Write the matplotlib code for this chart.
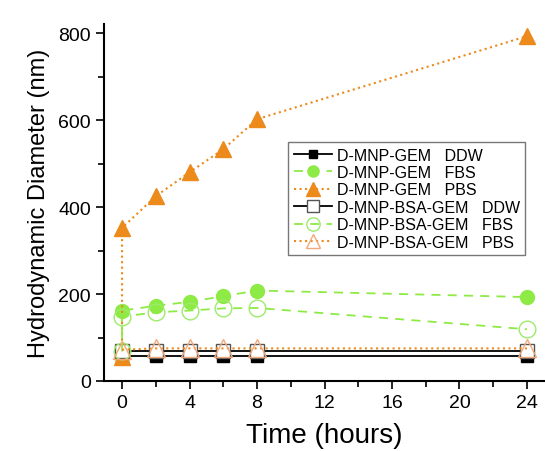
import matplotlib
matplotlib.use("Agg")
import matplotlib.pyplot as plt
from matplotlib.ticker import MultipleLocator

plt.rcParams['font.family'] = ['Liberation Sans', 'DejaVu Sans']

t_main = [0, 2, 4, 6, 8, 24]
t_init = [0, 0, 2, 4, 6, 8, 24]

gem_ddw = [57, 57, 57, 57, 57, 57]
gem_fbs = [55, 162, 173, 182, 195, 208, 193]
gem_pbs = [55, 352, 425, 480, 533, 602, 793]
bsa_ddw = [70, 70, 70, 70, 70, 70]
bsa_fbs = [68, 148, 158, 162, 167, 168, 119]
bsa_pbs = [72, 75, 75, 75, 75, 75]

labels = ["D-MNP-GEM   DDW", "D-MNP-GEM   FBS", "D-MNP-GEM   PBS",
          "D-MNP-BSA-GEM   DDW", "D-MNP-BSA-GEM   FBS", "D-MNP-BSA-GEM   PBS"]

orange = '#EC8A1C'
orange_l = '#F2A878'
green = '#8EEA45'
green_l = '#9CEB6A'

fig = plt.figure(figsize=(5.45, 4.52), dpi=100)
ax = fig.add_axes([104/545, 1-382/452, (545-104)/545, (382-25)/452])

ax.plot(t_main, gem_ddw, '-', color='black', lw=1.3, marker='s', ms=8,
        mfc='black', mec='black', label=labels[0])
ax.plot(t_init, gem_fbs, '--', color=green, lw=1.3, marker='o', ms=10,
        mfc=green, mec=green, label=labels[1], dashes=[5, 4])
ax.plot(t_init, gem_pbs, ':', color=orange, lw=1.5, marker='^', ms=12,
        mfc=orange, mec=orange, label=labels[2])
ax.plot(t_main, bsa_ddw, '-', color='black', lw=1.3, marker='s', ms=10,
        mfc='white', mec='#555555', label=labels[3])
ax.plot(t_init, bsa_fbs, '--', color=green, lw=1.3, marker='o', ms=12,
        mfc='none', mec=green_l, label=labels[4], dashes=[5, 4])
ax.plot(t_main, bsa_pbs, ':', color=orange, lw=1.5, marker='^', ms=13,
        mfc='none', mec=orange_l, label=labels[5])

ax.set_xlim(-1.07, 25.07)
ax.set_ylim(0, 821)
ax.xaxis.set_major_locator(MultipleLocator(4))
ax.xaxis.set_minor_locator(MultipleLocator(2))
ax.yaxis.set_major_locator(MultipleLocator(200))
ax.yaxis.set_minor_locator(MultipleLocator(100))
ax.tick_params(which='both', direction='out', width=1.2, labelsize=14)
ax.tick_params(which='major', length=6)
ax.tick_params(which='minor', length=4)
for s in ['top', 'right']:
    ax.spines[s].set_visible(False)
for s in ['left', 'bottom']:
    ax.spines[s].set_linewidth(1.5)

ax.set_xlabel('Time (hours)', fontsize=20, labelpad=8)
ax.set_ylabel('Hydrodynamic Diameter (nm)', fontsize=17, labelpad=6)

leg = ax.legend(loc='upper left', bbox_to_anchor=((288-104)/441, 1-(143-25)/357),
                borderaxespad=0,
                fontsize=11.5, frameon=True, fancybox=False, edgecolor='#555555',
                borderpad=0.35, labelspacing=0.15, handlelength=2.4, handletextpad=0.3,
                markerscale=0.8)
leg.get_frame().set_linewidth(1.0)

fig.savefig('out.png', dpi=100)
